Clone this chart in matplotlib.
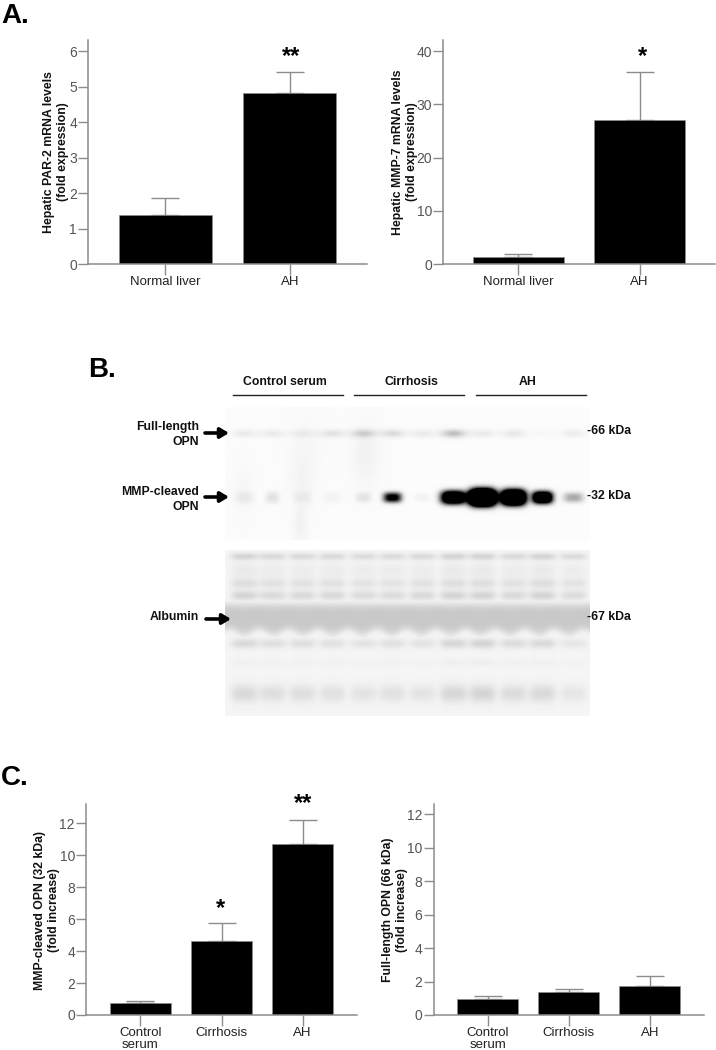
import numpy as np
from matplotlib import pyplot as plt

plt.rcParams['font.family'] = ['Liberation Sans', 'DejaVu Sans']

W = 716
H = 1050

# bar data
liver_groups = ['Normal liver', 'AH']
par2_values = [1.37, 4.83]
par2_errors = [0.49, 0.57]
par2_ticks = [0, 1, 2, 3, 4, 5, 6]
mmp7_values = [1.4, 27.0]
mmp7_errors = [0.5, 9.1]
mmp7_ticks = [0, 10, 20, 30, 40]

serum_groups = ['Control\nserum', 'Cirrhosis', 'AH']
cleaved_values = [0.72, 4.65, 10.7]
cleaved_errors = [0.13, 1.1, 1.5]
full_values = [0.97, 1.4, 1.75]
full_errors = [0.15, 0.17, 0.57]
fold_ticks = [0, 2, 4, 6, 8, 10, 12]

# blot data, one value per lane
lane_x = [244, 272, 302, 332, 363, 392, 422, 453, 482, 513, 542, 573]
band66 = [0.07, 0.07, 0.06, 0.1, 0.17, 0.13, 0.07, 0.24, 0.07, 0.08, 0.02, 0.06]
band32 = [0.06, 0.1, 0.05, 0.03, 0.09, 1.1, 0.04, 2.0, 4.0, 3.0, 2.0, 0.32]
band32_w = [9, 7, 9, 9, 8, 9, 8, 12, 13, 12, 10, 10]
band32_h = [6, 6, 6, 6, 5, 5, 4, 6.5, 8, 7.5, 6, 5]
# loading blot, depth of the bands above and below albumin
load_upper = [0.13, 0.11, 0.11, 0.11, 0.1, 0.1, 0.11, 0.13, 0.13, 0.11, 0.13, 0.1]
load_lower = [0.11, 0.09, 0.09, 0.08, 0.07, 0.08, 0.07, 0.12, 0.13, 0.1, 0.11, 0.06]


def px_axes(fig, left, right, top, bottom):
    return fig.add_axes([left / W, 1 - bottom / H, (right - left) / W, (bottom - top) / H])


def bar_panel(fig, box, groups, values, errors, ticks, ymax, margin, ylabel, label_x, label_y):
    ax = px_axes(fig, *box)
    ax.patch.set_alpha(0)
    x = np.arange(len(groups))
    ax.errorbar(x, values, yerr=[np.zeros(len(values)), errors], fmt='none', ecolor='#8c8c8c',
                elinewidth=1, capsize=10, capthick=1, zorder=1)
    ax.bar(x, values, 0.75, color='black', edgecolor='#8c8c8c', linewidth=0.5, zorder=2)
    ax.set_xlim(-margin, len(groups) - 1 + margin)
    ax.set_ylim(0, ymax)
    ax.set_xticks(x)
    ax.set_xticklabels(groups, fontsize=9.5, color='#222222', linespacing=1.05)
    ax.set_yticks(ticks)
    ax.tick_params(axis='y', length=7, width=1, color='#8c8c8c', labelcolor='#555555', labelsize=10, pad=1)
    ax.tick_params(axis='x', length=8, width=1, color='#8c8c8c', pad=0.5)
    for side in ['top', 'right']:
        ax.spines[side].set_visible(False)
    for side in ['left', 'bottom']:
        ax.spines[side].set_color('#8c8c8c')
        ax.spines[side].set_linewidth(1.1)
    fig.text(label_x / W, 1 - label_y / H, ylabel, rotation=90, ha='center', va='center',
             fontsize=8.8, fontweight='bold', color='#111111', linespacing=1.2)
    return ax


def bump(t, centre, width, power=2):
    return np.exp(-np.abs((t - centre) / width) ** power)


def opn_blot():
    xx, yy = np.meshgrid(np.arange(225, 590), np.arange(407, 540))
    dark = np.zeros(xx.shape)
    for i in range(len(lane_x)):
        dark += band66[i] * bump(xx, lane_x[i], 12) * bump(yy, 433, 4)
        dark += band32[i] * bump(xx, lane_x[i], band32_w[i], 3) * bump(yy, 497, band32_h[i], 2.5)
    # smudges in the background
    for cx, cy, sx, sy, d in [(302, 480, 14, 30, 0.03), (300, 525, 7, 18, 0.04), (365, 455, 14, 30, 0.04),
                              (243, 490, 12, 25, 0.02), (307, 440, 20, 25, 0.015)]:
        dark += d * bump(xx, cx, sx) * bump(yy, cy, sy)
    return 1 - np.clip(dark + 0.015, 0, 1)


def loading_blot():
    xx, yy = np.meshgrid(np.arange(225, 590), np.arange(550, 716))
    dark = np.full(xx.shape, 0.04)
    for i in range(len(lane_x)):
        lane = bump(xx, lane_x[i], 13.5, 4)
        up = load_upper[i]
        low = load_lower[i]
        dark += lane * (up * bump(yy, 556, 3.5) + 0.35 * up * bump(yy, 570, 8) + 0.7 * up * bump(yy, 583, 5)
                        + up * bump(yy, 595, 5))
        dark += lane * (low * bump(yy, 643, 5) + 0.2 * low * bump(yy, 662, 4) + low * bump(yy, 693, 9))
    # flat top edge, gently scalloped lower edge
    edge = 632 + 2.5 * np.cos((xx - 244) * 2 * np.pi / 29.5)
    albumin = 0.175 * bump(yy, (603 + edge) / 2, (edge - 603) / 2, 4)
    return 1 - np.clip(np.maximum(dark, albumin + 0.04), 0, 1)


fig = plt.figure(figsize=(W / 100, H / 100), dpi=100)

# one axes in pixel units for the blots and their labels
page = fig.add_axes([0, 0, 1, 1])
page.set_xlim(0, W)
page.set_ylim(H, 0)
page.axis('off')
page.imshow(opn_blot(), cmap='gray', vmin=0, vmax=1, extent=(225, 590, 540, 407), aspect='auto', interpolation='bilinear')
page.imshow(loading_blot(), cmap='gray', vmin=0, vmax=1, extent=(225, 590, 716, 550), aspect='auto', interpolation='bilinear')
page.set_xlim(0, W)
page.set_ylim(H, 0)

for name, x0, x1, xc in [('Control serum', 232.5, 342.5, 285), ('Cirrhosis', 354, 464, 411), ('AH', 476, 586, 528)]:
    page.plot([x0, x1], [395, 395], color='#222222', lw=1)
    page.text(xc, 382, name, ha='center', va='center', fontsize=8.8, fontweight='bold', color='#111111')

for text, y in [('Full-length', 427), ('OPN', 442), ('MMP-cleaved', 492), ('OPN', 507), ('Albumin', 617)]:
    page.text(199, y, text, ha='right', va='center', fontsize=8.8, fontweight='bold', color='#111111')
for text, y in [('-66 kDa', 431), ('-32 kDa', 496), ('-67 kDa', 617)]:
    page.text(587, y, text, ha='left', va='center', fontsize=8.8, fontweight='bold', color='#111111')
for x0, x1, y in [(205, 229, 433), (205, 229, 497), (206, 231, 619)]:
    page.annotate('', xy=(x1, y), xytext=(x0, y),
                  arrowprops=dict(arrowstyle='-|>,head_width=0.3,head_length=0.5', color='black', lw=2.6,
                                  shrinkA=0, shrinkB=0))

page.text(1, 16, 'A.', ha='left', va='center', fontsize=20, fontweight='bold')
page.text(88, 370, 'B.', ha='left', va='center', fontsize=20, fontweight='bold')
page.text(1, 778, 'C.', ha='left', va='center', fontsize=20, fontweight='bold')

bar_panel(fig, (88, 367, 40, 264), liver_groups, par2_values, par2_errors, par2_ticks, 6.31, 0.62,
          'Hepatic PAR-2 mRNA levels\n(fold expression)', 56, 152)
bar_panel(fig, (443, 715, 40, 264), liver_groups, mmp7_values, mmp7_errors, mmp7_ticks, 42.07, 0.62,
          'Hepatic MMP-7 mRNA levels\n(fold expression)', 405, 152)
bar_panel(fig, (86, 357, 804, 1015), serum_groups, cleaved_values, cleaved_errors, fold_ticks, 13.19, 0.67,
          'MMP-cleaved OPN (32 kDa)\n(fold increase)', 47, 910)
bar_panel(fig, (433.5, 704, 804, 1015), serum_groups, full_values, full_errors, fold_ticks, 12.6, 0.67,
          'Full-length OPN (66 kDa)\n(fold increase)', 395, 910)

for text, x, y in [('**', 291, 57), ('*', 642, 57), ('*', 221, 909), ('**', 303, 804)]:
    page.text(x, y, text, ha='center', va='center', fontsize=17, fontweight='bold', zorder=5)
page.set_zorder(5)
page.patch.set_alpha(0)

fig.savefig('out.png', dpi=100)
